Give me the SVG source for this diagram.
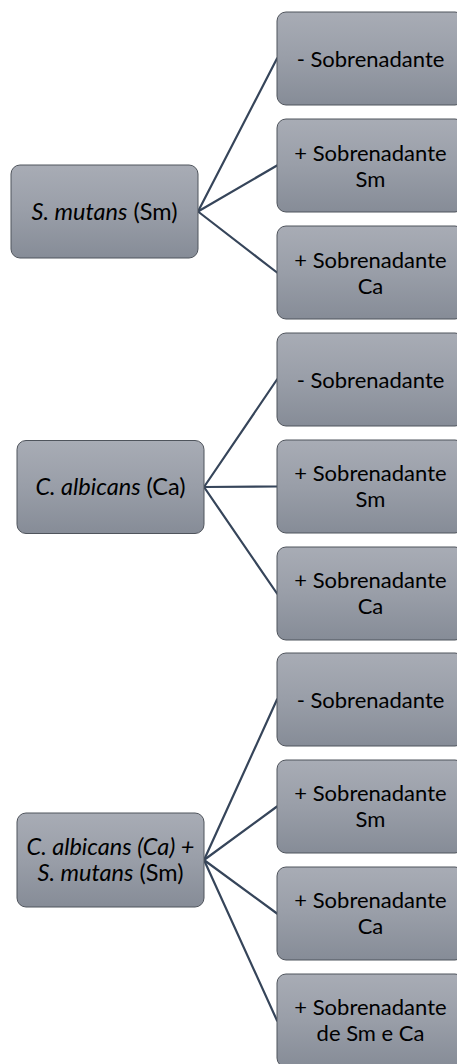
<svg xmlns="http://www.w3.org/2000/svg" width="457" height="1064" viewBox="0 0 457 1064">
  <defs>
    <linearGradient id="boxFill" x1="0" y1="0" x2="0" y2="1">
      <stop offset="0" stop-color="#a8acb5"/>
      <stop offset="0.5" stop-color="#999ea8"/>
      <stop offset="1" stop-color="#868c97"/>
    </linearGradient>
    <style>
      .box { fill: url(#boxFill); stroke: #4f545c; stroke-width: 1; }
      .link { stroke: #36455a; stroke-width: 2.2; fill: none; stroke-linecap: round; }
      .label { font-family: Lato, "Noto Sans", sans-serif; font-size: 22px; fill: #000; text-anchor: middle; }
      .root { font-size: 23.5px; }
      .it { font-style: italic; }
    </style>
  </defs>
  <rect width="457" height="1064" fill="#ffffff"/>

  <!-- connectors: root right edge to leaf left edge -->
  <g id="connectors">
    <line class="link" x1="198" y1="211.5" x2="277" y2="58.5"/>
    <line class="link" x1="198" y1="211.5" x2="277" y2="165.5"/>
    <line class="link" x1="198" y1="211.5" x2="277" y2="272.5"/>

    <line class="link" x1="204" y1="487" x2="277" y2="379.5"/>
    <line class="link" x1="204" y1="487" x2="277" y2="486.5"/>
    <line class="link" x1="204" y1="487" x2="277" y2="593.5"/>

    <line class="link" x1="204" y1="860" x2="277" y2="699.5"/>
    <line class="link" x1="204" y1="860" x2="277" y2="806.5"/>
    <line class="link" x1="204" y1="860" x2="277" y2="913.5"/>
    <line class="link" x1="204" y1="860" x2="277" y2="1020.5"/>
  </g>

  <!-- S. mutans branch -->
  <g id="root-sm">
    <rect class="box" x="11" y="165" width="187" height="93" rx="9"/>
    <text class="label root" x="104.5" y="220"><tspan class="it">S. mutans</tspan> (Sm)</text>
  </g>
  <g id="sm-none">
    <rect class="box" x="277" y="12" width="187" height="93" rx="9"/>
    <text class="label" x="370.5" y="66.5">- Sobrenadante</text>
  </g>
  <g id="sm-sm">
    <rect class="box" x="277" y="119" width="187" height="93" rx="9"/>
    <text class="label" x="370.5" y="160.5">+ Sobrenadante</text>
    <text class="label" x="370.5" y="186.5">Sm</text>
  </g>
  <g id="sm-ca">
    <rect class="box" x="277" y="226" width="187" height="93" rx="9"/>
    <text class="label" x="370.5" y="267.5">+ Sobrenadante</text>
    <text class="label" x="370.5" y="293.5">Ca</text>
  </g>

  <!-- C. albicans branch -->
  <g id="root-ca">
    <rect class="box" x="17" y="440.5" width="187" height="93" rx="9"/>
    <text class="label root" x="110.5" y="495"><tspan class="it">C. albicans</tspan> (Ca)</text>
  </g>
  <g id="ca-none">
    <rect class="box" x="277" y="333" width="187" height="93" rx="9"/>
    <text class="label" x="370.5" y="387.5">- Sobrenadante</text>
  </g>
  <g id="ca-sm">
    <rect class="box" x="277" y="440" width="187" height="93" rx="9"/>
    <text class="label" x="370.5" y="481">+ Sobrenadante</text>
    <text class="label" x="370.5" y="507">Sm</text>
  </g>
  <g id="ca-ca">
    <rect class="box" x="277" y="547" width="187" height="93" rx="9"/>
    <text class="label" x="370.5" y="588">+ Sobrenadante</text>
    <text class="label" x="370.5" y="614">Ca</text>
  </g>

  <!-- mixed Ca + Sm branch -->
  <g id="root-mix">
    <rect class="box" x="17" y="813" width="187" height="94" rx="9"/>
    <text class="label root it" x="110.5" y="855">C. albicans (Ca) +</text>
    <text class="label root" x="110.5" y="881"><tspan class="it">S. mutans</tspan> (Sm)</text>
  </g>
  <g id="mix-none">
    <rect class="box" x="277" y="653" width="187" height="93" rx="9"/>
    <text class="label" x="370.5" y="707.5">- Sobrenadante</text>
  </g>
  <g id="mix-sm">
    <rect class="box" x="277" y="760" width="187" height="93" rx="9"/>
    <text class="label" x="370.5" y="801">+ Sobrenadante</text>
    <text class="label" x="370.5" y="827">Sm</text>
  </g>
  <g id="mix-ca">
    <rect class="box" x="277" y="867" width="187" height="93" rx="9"/>
    <text class="label" x="370.5" y="908">+ Sobrenadante</text>
    <text class="label" x="370.5" y="934">Ca</text>
  </g>
  <g id="mix-both">
    <rect class="box" x="277" y="974" width="187" height="93" rx="9"/>
    <text class="label" x="370.5" y="1015">+ Sobrenadante</text>
    <text class="label" x="370.5" y="1041">de Sm e Ca</text>
  </g>
</svg>
